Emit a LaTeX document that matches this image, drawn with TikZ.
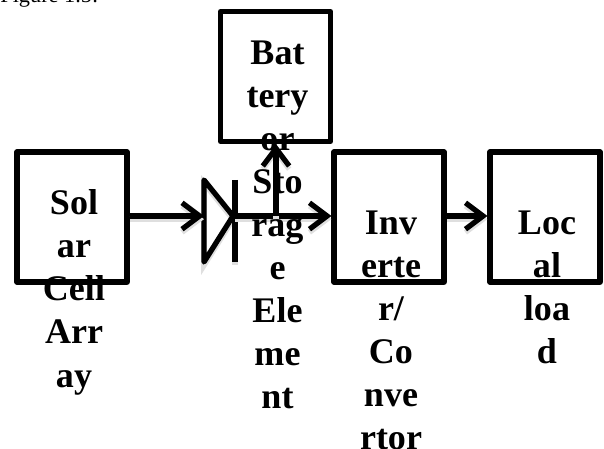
\documentclass[tikz,border=0pt]{standalone}
\usepackage{fontspec}
\setmainfont{Liberation Serif}
\usetikzlibrary{arrows.meta}
\tikzset{
  glow/.style={preaction={draw=gray!25,line width=3.2pt,transform canvas={yshift=-1.8pt}}},
  wire/.style={line width=3pt},
  flow/.style={wire,glow,->,>={Straight Barb[length=10pt,width=15pt,line width=3pt]}},
  blockbox/.style={draw,line width=2.9pt,line join=round,minimum width=2.2cm,minimum height=2.6cm,inner sep=0pt},
  blocktext/.style={align=center,font=\fontsize{20.5}{24.5}\selectfont\bfseries,inner sep=0pt,anchor=north}
}
\begin{document}
\begin{tikzpicture}
    \useasboundingbox (0,0) rectangle (12.08,8.98);
    % Caption
    \node[anchor=base west,inner sep=0pt,font=\fontsize{12.7}{15}\selectfont] (caption) at (0,8.92) {Figure 1.5:};
    % Blocks
    \node[blockbox] (solar) at (1.44,4.64) {};
    \node[blockbox] (battery) at (5.51,7.45) {};
    \node[blockbox] (inverter) at (7.78,4.64) {};
    \node[blockbox] (local) at (10.90,4.64) {};
    % Diode
    \coordinate (diodein) at (4.08,4.66);
    \coordinate (diodeout) at (4.70,4.66);
    \coordinate (junction) at (5.52,4.66);
    \draw[wire,glow,line join=round] (4.08,5.38) -- (4.08,3.74) -- (4.66,4.66) -- cycle;
    \draw[wire,glow] (4.70,5.38) -- (4.70,3.74);
    % Connectors
    \draw[flow] (solar.east |- diodein) -- (diodein);
    \draw[flow] (diodeout) -- (inverter.west |- diodeout);
    \draw[flow] (junction) -- (battery.south -| junction);
    \draw[flow] (inverter.east |- diodein) -- (local.west |- diodein);
    % Labels
    \node[blocktext] (solartext) at (1.48,5.19) {Sol\\ar\\Cell\\Arr\\ay};
    \node[blocktext] (batterytext) at (5.55,8.17) {Bat\\tery\\or\\Sto\\rag\\e\\Ele\\me\\nt};
    \node[blocktext] (invertertext) at (7.82,4.77) {Inv\\erte\\r/\\Co\\nve\\rtor};
    \node[blocktext] (localtext) at (10.94,4.77) {Loc\\al\\loa\\d};
\end{tikzpicture}
\end{document}
